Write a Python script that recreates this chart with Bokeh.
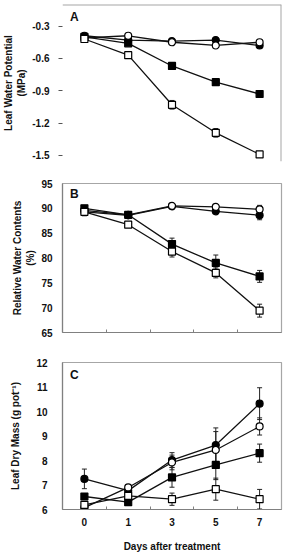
from bokeh.plotting import figure
from bokeh.models import FixedTicker, Whisker, ColumnDataSource, Label, Span, TeeHead, Range1d
from bokeh.layouts import column
from bokeh.embed import file_html
from bokeh.resources import INLINE

days = ["0", "1", "3", "5", "7"]
xpos = list(range(len(days)))

# Panel A: Leaf water potential (MPa)
lwp_fc = [-0.39, -0.43, -0.44, -0.43, -0.48]
lwp_oc = [-0.41, -0.39, -0.45, -0.48, -0.45]
lwp_fs = [-0.40, -0.46, -0.67, -0.82, -0.93]
lwp_os = [-0.42, -0.57, -1.03, -1.29, -1.49]
lwp_fc_e = [0.01, 0.01, 0.01, 0.01, 0.02]
lwp_oc_e = [0.01, 0.01, 0.01, 0.01, 0.01]
lwp_fs_e = [0.01, 0.01, 0.02, 0.02, 0.02]
lwp_os_e = [0.01, 0.01, 0.04, 0.04, 0.02]

# Panel B: Relative water contents (%)
rwc_fc = [89.3, 88.6, 90.4, 89.4, 88.6]
rwc_oc = [89.6, 88.7, 90.5, 90.3, 89.8]
rwc_fs = [90.0, 88.7, 82.8, 79.0, 76.3]
rwc_os = [89.3, 86.7, 81.3, 77.0, 69.4]
rwc_fc_e = [0.8, 0.5, 0.3, 0.4, 0.9]
rwc_oc_e = [0.5, 0.4, 0.3, 0.4, 0.8]
rwc_fs_e = [0.5, 0.5, 1.2, 1.6, 1.2]
rwc_os_e = [0.6, 0.4, 1.1, 1.0, 1.3]

# Panel C: Leaf dry mass (g pot-1)
ldm_fc = [7.25, 6.77, 8.02, 8.63, 10.32]
ldm_oc = [6.08, 6.90, 7.92, 8.43, 9.39]
ldm_fs = [6.53, 6.30, 7.31, 7.82, 8.30]
ldm_os = [6.19, 6.56, 6.42, 6.83, 6.42]
ldm_fc_e = [0.40, 0.15, 0.30, 0.70, 0.65]
ldm_oc_e = [0.10, 0.10, 0.30, 0.75, 0.35]
ldm_fs_e = [0.10, 0.10, 0.40, 0.60, 0.37]
ldm_os_e = [0.10, 0.10, 0.25, 0.45, 0.40]

yticks_a = [-1.5, -1.2, -0.9, -0.6, -0.3]
yticks_b = [65, 70, 75, 80, 85, 90, 95]
yticks_c = [6, 7, 8, 9, 10, 11, 12]

FONT = "Liberation Sans"
W = 287


def make_fig(height, yr, top, bottom, xaxis):
    p = figure(width=W, height=height, x_range=Range1d(-0.5, 4.5), y_range=Range1d(*yr),
               output_backend="svg", toolbar_location=None,
               min_border_left=60, min_border_right=6, min_border_top=top,
               min_border_bottom=bottom,
               x_axis_location="below" if xaxis else None)
    p.grid.visible = False
    p.background_fill_color = "white"
    p.border_fill_color = "white"
    p.outline_line_color = "#a6a6a6"
    p.outline_line_width = 1.2
    return p


def style_y(p, ticks, label, label_standoff, tick_out, lstand, line=True):
    ax = p.yaxis[0]
    ax.ticker = FixedTicker(ticks=ticks)
    ax.major_label_overrides = {t: (("%.1f" % t) if isinstance(t, float) else str(t)) for t in ticks}
    ax.minor_tick_line_color = None
    ax.major_tick_in = 0
    ax.major_tick_out = tick_out
    ax.major_tick_line_color = "#555555"
    ax.axis_line_color = "#808080" if line else None
    ax.axis_line_width = 1.2
    ax.major_label_text_font = FONT
    ax.major_label_text_font_style = "bold"
    ax.major_label_text_font_size = "10px"
    ax.major_label_text_color = "#111111"
    ax.major_label_standoff = label_standoff
    ax.axis_label = label
    ax.axis_label_text_font = FONT
    ax.axis_label_text_font_style = "bold"
    ax.axis_label_text_font_size = "10px"
    ax.axis_label_text_color = "#111111"
    ax.axis_label_standoff = lstand


def style_x(p, labels):
    ax = p.xaxis[0]
    if labels:
        ax.ticker = FixedTicker(ticks=xpos, minor_ticks=[0.5, 1.5, 2.5, 3.5])
        ax.major_label_overrides = {i: d for i, d in zip(xpos, days)}
    else:
        ax.ticker = FixedTicker(ticks=[], minor_ticks=[0.5, 1.5, 2.5, 3.5])
    ax.major_tick_in = 0
    ax.major_tick_out = 0
    ax.minor_tick_in = 3
    ax.minor_tick_out = 0
    ax.minor_tick_line_color = "#808080"
    ax.axis_line_color = "#808080"
    ax.axis_line_width = 1.2
    ax.major_label_text_font = FONT
    ax.major_label_text_font_style = "bold"
    ax.major_label_text_font_size = "10px"
    ax.major_label_text_color = "#111111"
    ax.major_label_standoff = 8


def add_series(p, ys, errs):
    styles = [("circle", "black"), ("circle", "white"), ("square", "black"), ("square", "white")]
    for y, e in zip(ys, errs):
        src = ColumnDataSource(dict(x=xpos, y=y, lo=[a - b for a, b in zip(y, e)],
                                    hi=[a + b for a, b in zip(y, e)]))
        w = Whisker(source=src, base="x", lower="lo", upper="hi", level="underlay",
                    line_color="#222222", line_width=1,
                    upper_head=TeeHead(size=5, line_color="#222222", line_width=1),
                    lower_head=TeeHead(size=5, line_color="#222222", line_width=1))
        p.add_layout(w)
    for y in ys:
        p.line(xpos, y, line_color="#111111", line_width=1.3)
    for y, (m, fc) in zip(ys, styles):
        src = ColumnDataSource(dict(x=xpos, y=y))
        p.scatter("x", "y", source=src, marker=m, size=7, fill_color=fc,
                  line_color="black", line_width=1.2)


def add_letter(p, txt, x, y):
    p.add_layout(Label(x=x, y=y, text=txt, text_font=FONT, text_font_style="bold",
                       text_font_size="12px", text_align="center", text_baseline="middle",
                       text_color="#111111"))


# Panel A (no left/bottom frame lines in the original; range extended a bit below -1.5
# so the last marker is not clipped)
pa = make_fig(165, (-1.556, -0.1), 4, 4, False)
pa.outline_line_color = None
style_y(pa, yticks_a, "Leaf Water Potential\n(MPa)", 9, 4, 2, line=False)
pa.add_layout(Span(location=-0.1, dimension="width", line_color="#a6a6a6", line_width=2))
pa.add_layout(Span(location=4.5, dimension="height", line_color="#a6a6a6", line_width=2))
add_series(pa, [lwp_fc, lwp_oc, lwp_fs, lwp_os], [lwp_fc_e, lwp_oc_e, lwp_fs_e, lwp_os_e])
add_letter(pa, "A", -0.23, -0.215)

# Panel B
pb = make_fig(180, (65, 95), 18, 13, True)
style_y(pb, yticks_b, "Relative Water Contents\n(%)", 10, 0, 2)
style_x(pb, False)
add_series(pb, [rwc_fc, rwc_oc, rwc_fs, rwc_os], [rwc_fc_e, rwc_oc_e, rwc_fs_e, rwc_os_e])
add_letter(pb, "B", -0.23, 92.8)

# Panel C
pc = make_fig(211, (6, 12), 17, 47, True)
style_y(pc, yticks_c, "Leaf Dry Mass (g pot\u207b\u00b9)", 15, 0, 12)
style_x(pc, True)
pc.xaxis[0].axis_label = "Days after treatment"
pc.xaxis[0].axis_label_text_font = FONT
pc.xaxis[0].axis_label_text_font_style = "bold"
pc.xaxis[0].axis_label_text_font_size = "10px"
pc.xaxis[0].axis_label_text_color = "#111111"
pc.xaxis[0].axis_label_standoff = 12
add_series(pc, [ldm_fc, ldm_oc, ldm_fs, ldm_os], [ldm_fc_e, ldm_oc_e, ldm_fs_e, ldm_os_e])
add_letter(pc, "C", -0.23, 11.5)

layout = column(pa, pb, pc, spacing=0)
open("out.html", "w").write(file_html(layout, INLINE))
